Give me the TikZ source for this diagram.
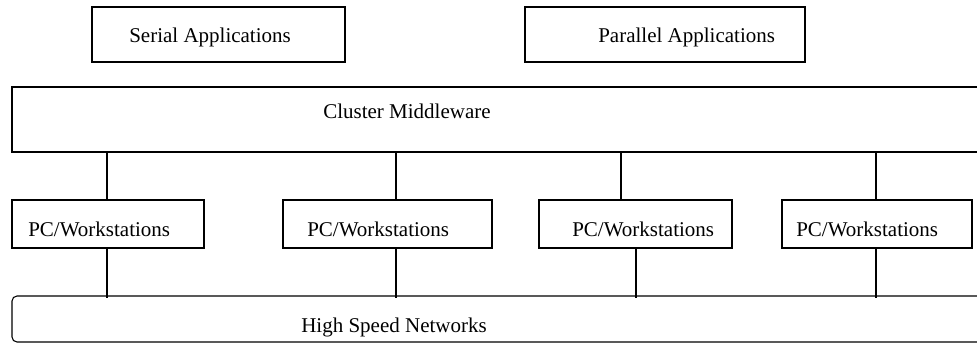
\documentclass[tikz,border=0pt]{standalone}
\usepackage{fontspec}
\setmainfont{Liberation Serif}
\usetikzlibrary{fit}
\begin{document}
\begin{tikzpicture}[x=0.75pt,y=-0.75pt,
  box/.style={draw, line width=0.8pt, inner sep=0pt},
  netbox/.style={draw, line width=0.8pt, inner sep=0pt, rounded corners=3.75pt},
  lbl/.style={font=\fontsize{15.75}{18}\selectfont, inner sep=0pt, anchor=base west},
  link/.style={line width=0.8pt}]
\useasboundingbox (0,0) rectangle (977,343);
\clip (0,0) rectangle (977,343);
% top boxes
\node[box, fit={(92,7) (345,62)}] (serial) {};
\node[lbl] (serialT) at (129,42) {Serial Applications};
\node[box, fit={(525,7) (805,62)}] (parallel) {};
\node[lbl] (parallelT) at (598,42) {Parallel Applications};
% middleware
\node[box, fit={(12,87) (1010,152)}] (mw) {};
\node[lbl] (mwT) at (323,118) {Cluster Middleware};
% PCs
\node[box, fit={(12,200) (204,248)}] (pc1) {};
\node[lbl] (pc1T) at (28,236) {PC/Workstations};
\node[box, fit={(283,200) (492,248)}] (pc2) {};
\node[lbl] (pc2T) at (307,236) {PC/Workstations};
\node[box, fit={(539,200) (732,248)}] (pc3) {};
\node[lbl] (pc3T) at (572,236) {PC/Workstations};
\node[box, fit={(782,200) (972,248)}] (pc4) {};
\node[lbl] (pc4T) at (796,236) {PC/Workstations};
% network
\node[netbox, fit={(12,296) (1010,342)}] (net) {};
\node[lbl] (netT) at (301,332) {High Speed Networks};
% connector x positions
\coordinate (u1) at (107,0);
\coordinate (u2) at (396,0);
\coordinate (u3) at (621,0);
\coordinate (u4) at (876,0);
\coordinate (d1) at (107,0);
\coordinate (d2) at (396,0);
\coordinate (d3) at (636,0);
\coordinate (d4) at (876,0);
\foreach \i in {1,2,3,4}{
  \draw[link] (u\i |- mw.south) -- (u\i |- pc\i.north);
  \draw[link] (d\i |- pc\i.south) -- ([yshift=-2pt]d\i |- net.north);
}
\end{tikzpicture}
\end{document}
